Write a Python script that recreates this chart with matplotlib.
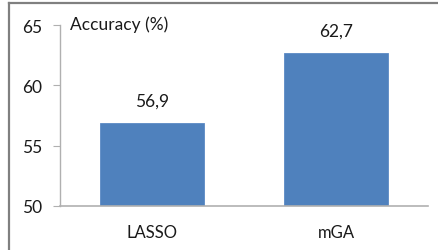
import matplotlib
matplotlib.use("Agg")
import matplotlib.pyplot as plt
from matplotlib.lines import Line2D

methods = ["LASSO", "mGA"]
accuracy = [56.9, 62.7]
value_labels = ["56,9", "62,7"]
yticks = [50, 55, 60, 65]

plt.rcParams["font.family"] = ["Lato", "DejaVu Sans"]

fig = plt.figure(figsize=(4.38, 2.51), dpi=100)
ax = fig.add_axes([0.137, 0.1765, 0.840, 0.7195])

x = list(range(len(methods)))
ax.bar(x, accuracy, width=0.565, color="#4F81BD", edgecolor="#5B8AC5", linewidth=0.6)

for xi, v, lab in zip(x, accuracy, value_labels):
    ax.text(xi, v + 1.2, lab, ha="center", va="bottom", fontsize=12.5, color="#1a1a1a")

ax.set_xlim(-0.5, 1.5)
ax.set_ylim(50, 65)
ax.set_yticks(yticks)
ax.set_yticklabels([str(t) for t in yticks])
ax.set_xticks(x)
ax.set_xticklabels(methods)

for side in ["top", "right"]:
    ax.spines[side].set_visible(False)
ax.spines["left"].set_color("#B0B0B0")
ax.spines["bottom"].set_color("#B0B0B0")
ax.spines["left"].set_linewidth(1.0)
ax.spines["bottom"].set_linewidth(1.2)

ax.tick_params(axis="y", length=5, color="#B0B0B0", pad=8, labelsize=12.5, labelcolor="#1a1a1a")
ax.tick_params(axis="x", length=0, pad=13, labelsize=12, labelcolor="#1a1a1a")

fig.text(0.160, 0.90, "Accuracy (%)", ha="left", va="center", fontsize=12.5, color="#1a1a1a")

# outer frame (top and left only)
fig.add_artist(Line2D([0.0205, 0.0205], [0.0, 0.986], color="#808080", linewidth=1.6, transform=fig.transFigure))
fig.add_artist(Line2D([0.0205, 1.0], [0.986, 0.986], color="#808080", linewidth=1.6, transform=fig.transFigure))

fig.savefig("out.png", dpi=100)
